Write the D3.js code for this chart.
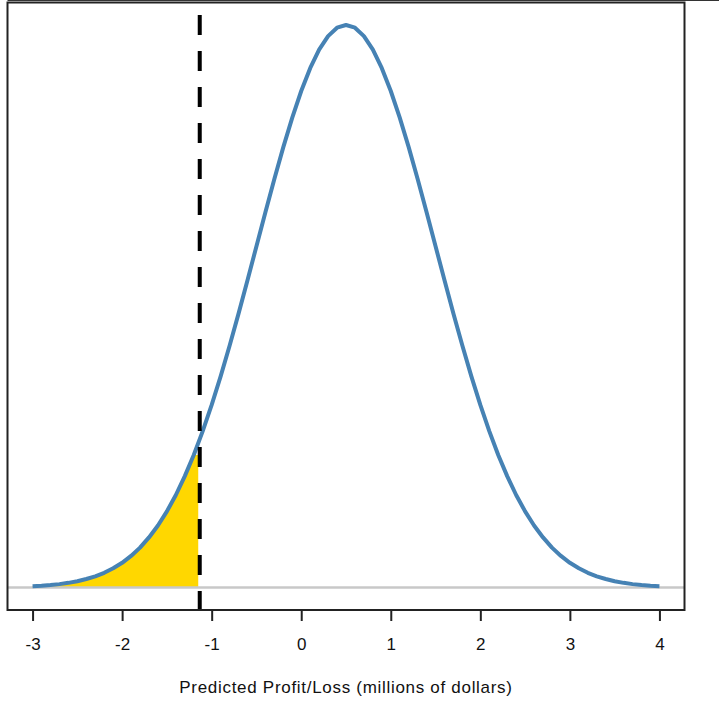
<!DOCTYPE html>
<html lang="en">

<head>
    <meta charset="UTF-8">
    <title>Predicted Profit/Loss</title>
    <script src='https://d3js.org/d3.v7.min.js'></script>
    <style>
        body { margin: 0; background: #fff; }
        text { font-family: Arial, "Liberation Sans", sans-serif; fill: #111; }
    </style>
</head>

<body>
    <script>
        // x positions (millions of dollars), read every 0.1 from -3 to 4
        const xValues = d3.range(71).map(i => +(-3 + i * 0.1).toFixed(1));
        // density height of the curve at those x positions
        const density = [
            0.0009, 0.0012, 0.0017, 0.0024, 0.0033, 0.0044, 0.0060, 0.0079, 0.0104, 0.0136,
            0.0175, 0.0224, 0.0283, 0.0355, 0.0440, 0.0540, 0.0656, 0.0790, 0.0940, 0.1109,
            0.1295, 0.1497, 0.1714, 0.1942, 0.2179, 0.2420, 0.2661, 0.2897, 0.3123, 0.3332,
            0.3521, 0.3683, 0.3814, 0.3910, 0.3970, 0.3989, 0.3970, 0.3910, 0.3814, 0.3683,
            0.3521, 0.3332, 0.3123, 0.2897, 0.2661, 0.2420, 0.2179, 0.1942, 0.1714, 0.1497,
            0.1295, 0.1109, 0.0940, 0.0790, 0.0656, 0.0540, 0.0440, 0.0355, 0.0283, 0.0224,
            0.0175, 0.0136, 0.0104, 0.0079, 0.0060, 0.0044, 0.0033, 0.0024, 0.0017, 0.0012,
            0.0009
        ];
        const xTicks = [-3, -2, -1, 0, 1, 2, 3, 4];
        const cutoff = -1.15;   // dashed threshold
        const xTitle = "Predicted Profit/Loss (millions of dollars)";

        const data = xValues.map((x, i) => ({ x: x, y: density[i] }));

        // Set Dimensions
        const width = 719; const height = 709;
        const boxLeft = 7.5, boxRight = 684.5, boxTop = 2.5, boxBottom = 610;

        const svg = d3.select("body")
            .append("svg")
            .attr("width", width)
            .attr("height", height);

        // R style 4% padding around the data range
        const x = d3.scaleLinear().domain([-3.28, 4.28]).range([boxLeft, boxRight]);
        const yMax = d3.max(density);
        const y = d3.scaleLinear().domain([-yMax * 0.04, yMax * 1.04]).range([boxBottom, boxTop]);

        // shaded tail
        const tail = data.filter(d => d.x <= cutoff);
        tail.push({ x: cutoff, y: tail[tail.length - 1].y });
        svg.append("path")
            .datum(tail)
            .attr("fill", "#FFD700")
            .attr("d", d3.area()
                .x(d => x(d.x))
                .y0(y(0))
                .y1(d => y(d.y)));

        // baseline
        svg.append("line")
            .attr("x1", boxLeft).attr("x2", boxRight)
            .attr("y1", y(0)).attr("y2", y(0))
            .attr("stroke", "#c8c8c8").attr("stroke-width", 2.5);

        // density curve
        svg.append("path")
            .datum(data)
            .attr("fill", "none")
            .attr("stroke", "#4682B4")
            .attr("stroke-width", 4)
            .attr("stroke-linejoin", "round")
            .attr("d", d3.line()
                .x(d => x(d.x))
                .y(d => y(d.y)));

        // threshold line
        svg.append("line")
            .attr("x1", x(cutoff) + 1.5).attr("x2", x(cutoff) + 1.5)
            .attr("y1", 15).attr("y2", boxBottom)
            .attr("stroke", "#000")
            .attr("stroke-width", 4)
            .attr("stroke-dasharray", "20,16");

        // frame
        svg.append("rect")
            .attr("x", boxLeft).attr("y", boxTop)
            .attr("width", boxRight - boxLeft).attr("height", boxBottom - boxTop)
            .attr("fill", "none")
            .attr("stroke", "#222")
            .attr("stroke-width", 2);
        svg.append("line")
            .attr("x1", boxLeft).attr("x2", width)
            .attr("y1", 0.5).attr("y2", 0.5)
            .attr("stroke", "#333").attr("stroke-width", 1);

        // bottom axis
        const axis = svg.append("g")
            .attr("transform", `translate(0,${boxBottom})`)
            .attr("font-size", 17)
            .attr("font-family", "Arial, 'Liberation Sans', sans-serif")
            .call(d3.axisBottom(x).tickValues(xTicks).tickSize(11).tickPadding(17).tickFormat(d => String(d)));
        axis.attr("font-size", 17).attr("font-family", "Arial, 'Liberation Sans', sans-serif");
        axis.select(".domain").remove();
        axis.selectAll(".tick line").attr("stroke", "#222").attr("stroke-width", 2);
        axis.selectAll(".tick text").attr("fill", "#111");

        svg.append("text")
            .attr("x", (boxLeft + boxRight) / 2)
            .attr("y", 693)
            .attr("text-anchor", "middle")
            .attr("font-size", 17)
            .attr("letter-spacing", 0.7)
            .text(xTitle);
    </script>
</body>

</html>
